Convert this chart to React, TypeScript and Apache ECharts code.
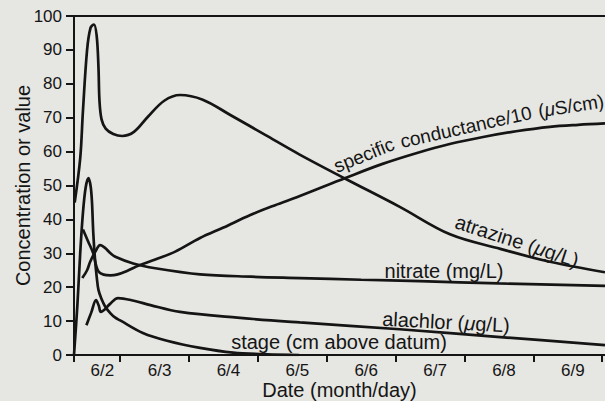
import React, { useEffect, useRef } from 'react';
import * as echarts from 'echarts';

const FONT = '"Liberation Sans", Arial, Helvetica, sans-serif';
const INK = '#151515';
const BG = '#e6e6e2';

// x values are days of June (6/3 00:00 = 3)
const dayLabels = ['6/2', '6/3', '6/4', '6/5', '6/6', '6/7', '6/8', '6/9'];
const dayLabelValues = [2.67, 3.5, 4.5, 5.5, 6.5, 7.5, 8.5, 9.5];
const dayTicks = [2.33, 3, 4, 5, 6, 7, 8, 9, 10];
const xMin = 2.33;
const xMax = 10.04;

const atrazine: [number, number][] = [
  [2.34, 45], [2.42, 58], [2.46, 72], [2.52, 90], [2.57, 96.5], [2.62, 97.5],
  [2.66, 94], [2.685, 85], [2.7, 75], [2.73, 69.5], [2.79, 66.8], [2.9, 65.2],
  [3.03, 64.6], [3.2, 65.8], [3.4, 70.2], [3.64, 75], [3.87, 76.7], [4.2, 75.3],
  [4.6, 70.8], [5.1, 65], [5.6, 59.2], [6.27, 52], [7.06, 43.7], [7.79, 35.6],
  [8.52, 31.3], [9.24, 27.5], [10.04, 24.4],
];

const conductance: [number, number][] = [
  [2.46, 37], [2.535, 33.5], [2.61, 30], [2.65, 26.5], [2.69, 24.5], [2.76, 23.7],
  [2.86, 23.5], [2.95, 23.7], [3.1, 24.8], [3.27, 26.4], [3.51, 28.2], [3.8, 30.5],
  [4.16, 34.5], [4.5, 37.6], [4.89, 41.3], [5.25, 44.2], [5.6, 46.8], [6.27, 52.2],
  [6.8, 56.3], [7.31, 59.6], [7.8, 62.3], [8.27, 64.3], [8.75, 66], [9.24, 67.3],
  [9.65, 67.9], [10.04, 68.3],
];

const nitrate: [number, number][] = [
  [2.45, 22.7], [2.52, 25], [2.565, 27.5], [2.64, 30.5], [2.71, 32.4], [2.78, 31.6],
  [2.86, 30], [2.93, 29], [3.19, 27], [3.51, 25.6], [4.16, 23.8], [4.9, 23.1],
  [5.61, 22.7], [6.5, 22.2], [7.35, 21.8], [8.5, 21.1], [10.04, 20.4],
];

const alachlor: [number, number][] = [
  [2.51, 8.8], [2.58, 12.5], [2.65, 16.2], [2.69, 14.5], [2.72, 12.7], [2.78, 13.5],
  [2.85, 15], [2.97, 16.8], [3.2, 16], [3.44, 14.7], [3.87, 12.7], [4.7, 11],
  [5.61, 9.6], [7.06, 7.6], [8.52, 5.3], [10.04, 2.9],
];

const stage: [number, number][] = [
  [2.33, 0], [2.38, 15], [2.42, 30], [2.46, 42], [2.5, 49.5], [2.54, 52.2],
  [2.57, 50], [2.59, 45.5], [2.61, 36], [2.636, 28], [2.66, 23], [2.685, 19.2],
  [2.73, 16.5], [2.78, 14.4], [2.86, 12.3], [2.93, 11], [3.0, 10.2], [3.33, 6.5],
  [3.68, 4.2], [4.16, 2.1], [4.64, 0.7], [5.13, 0.2], [5.6, 0],
];

const seriesList: { name: string; data: [number, number][] }[] = [
  { name: 'atrazine', data: atrazine },
  { name: 'specific conductance', data: conductance },
  { name: 'nitrate', data: nitrate },
  { name: 'alachlor', data: alachlor },
  { name: 'stage', data: stage },
];

const deg = (d: number) => (d * Math.PI) / 180;

function label(text: string, x: number, y: number, rot: number, size: number, rich = false) {
  return {
    type: 'text',
    x,
    y,
    rotation: deg(rot),
    z: 100,
    style: {
      text,
      x: 0,
      y: 0,
      fill: INK,
      fontSize: size,
      fontFamily: FONT,
      align: 'center',
      verticalAlign: 'middle',
      textAlign: 'center',
      textVerticalAlign: 'middle',
      rich: rich
        ? { m: { fontStyle: 'italic', fontSize: size, fontFamily: FONT, fill: INK } }
        : undefined,
    },
  };
}

export default function App() {
  const ref = useRef<HTMLDivElement>(null);

  useEffect(() => {
    if (!ref.current) return;
    const chart = echarts.init(ref.current, undefined, { renderer: 'svg' });
    const axisLine = { show: true, onZero: false, lineStyle: { color: INK, width: 2 } };
    chart.setOption({
      animation: false,
      backgroundColor: BG,
      grid: {
        left: 74,
        right: 0,
        top: 16,
        bottom: 46,
        containLabel: false,
        outerBoundsMode: 'none',
      },
      xAxis: [
        {
          type: 'value',
          min: xMin,
          max: xMax,
          axisLine,
          axisTick: {
            show: true,
            inside: false,
            length: 7,
            customValues: dayTicks,
            lineStyle: { color: INK, width: 2 },
          },
          axisLabel: {
            customValues: dayLabelValues,
            formatter: (v: number) => {
              let best = 0;
              dayLabelValues.forEach((p, i) => {
                if (Math.abs(p - v) < Math.abs(dayLabelValues[best] - v)) best = i;
              });
              return dayLabels[best];
            },
            fontSize: 17,
            lineHeight: 17,
            color: INK,
            fontFamily: FONT,
            margin: 7,
            padding: [0, 0, 0, 10],
          },
          splitLine: { show: false },
          name: 'Date (month/day)',
          nameLocation: 'middle',
          nameGap: 25,
          nameMoveOverlap: false,
          nameTextStyle: { fontSize: 20, color: INK, fontFamily: FONT, lineHeight: 20 },
        },
        {
          type: 'value',
          position: 'top',
          min: xMin,
          max: xMax,
          axisLine,
          axisTick: { show: false },
          axisLabel: { show: false },
          splitLine: { show: false },
        },
      ],
      yAxis: {
        type: 'value',
        min: 0,
        max: 100,
        interval: 10,
        axisLine,
        axisTick: { show: true, length: 8, lineStyle: { color: INK, width: 2 } },
        axisLabel: { fontSize: 17, color: INK, fontFamily: FONT, margin: 12 },
        splitLine: { show: false },
        name: 'Concentration or value',
        nameLocation: 'middle',
        nameGap: 41,
        nameMoveOverlap: false,
        nameTextStyle: { fontSize: 20, color: INK, fontFamily: FONT },
      },
      series: seriesList.map((s) => ({
        type: 'line',
        name: s.name,
        data: s.data,
        xAxisIndex: 0,
        showSymbol: false,
        smooth: 0.35,
        lineStyle: { color: INK, width: 2.7 },
        itemStyle: { color: INK },
      })),
      graphic: {
        elements: [
          label('specific', 364, 155, 22, 19),
          label('conductance/10', 466, 127, 12.7, 19),
          label('({m|μ}S/cm)', 571, 106, 9, 19, true),
          label('atrazine ({m|μ}g/L)', 517, 241, -18, 20, true),
          label('nitrate (mg/L)', 444, 271, 0, 20),
          label('alachlor ({m|μ}g/L)', 446, 322, -3, 20, true),
          label('stage (cm above datum)', 339, 342, 0, 20),
        ],
      },
    });
    return () => chart.dispose();
  }, []);

  return (
    <div
      ref={ref}
      style={{ position: 'fixed', left: 0, top: 0, width: 605, height: 401, background: BG }}
    />
  );
}
